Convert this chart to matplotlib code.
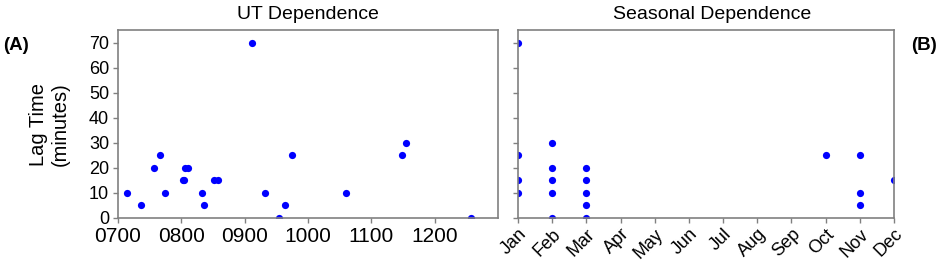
import matplotlib
matplotlib.use('Agg')
from matplotlib import pyplot as plt
from matplotlib.ticker import FuncFormatter

plt.rcParams['font.family'] = ['Liberation Sans', 'DejaVu Sans']

# UT dependence (UT as HHMM-style number, lag in minutes)
ut_time = [715, 736, 757, 766, 775, 802, 805, 806, 810, 833, 836, 851, 858,
           911, 932, 955, 964, 974, 1060, 1148, 1155, 1257]
ut_lag = [10, 5, 20, 25, 10, 15, 15, 20, 20, 10, 5, 15, 15,
          70, 10, 0, 5, 25, 10, 25, 30, 0]

# seasonal dependence (month number, lag in minutes)
month = [1, 1, 1, 1, 2, 2, 2, 2, 2, 3, 3, 3, 3, 3, 10, 11, 11, 11, 12]
season_lag = [70, 25, 15, 10, 30, 20, 15, 10, 0, 20, 15, 10, 5, 0, 25, 25, 10, 5, 15]

month_names = ['Jan', 'Feb', 'Mar', 'Apr', 'May', 'Jun',
               'Jul', 'Aug', 'Sep', 'Oct', 'Nov', 'Dec']
ut_ticks = [700, 800, 900, 1000, 1100, 1200]
lag_ticks = [0, 10, 20, 30, 40, 50, 60, 70]

fig = plt.figure(figsize=(9.41, 2.6), dpi=100)
ax1 = fig.add_axes([118 / 941, 42 / 260, 380 / 941, 188 / 260])
ax2 = fig.add_axes([518 / 941, 42 / 260, 376 / 941, 188 / 260])

spine_col = '#808080'
for ax in (ax1, ax2):
    for s in ax.spines.values():
        s.set_color(spine_col)
        s.set_linewidth(1.2)
    ax.tick_params(direction='out', length=3.5, width=1, color=spine_col, pad=3)
    ax.tick_params(axis='y', labelsize=13)
    ax.tick_params(axis='x', labelsize=15)
    ax.set_ylim(0, 75)
    ax.set_yticks(lag_ticks)

ax1.plot(ut_time, ut_lag, 'o', color='#0000ff', markersize=5.2, markeredgewidth=0)
ax1.set_xlim(700, 1300)
ax1.set_xticks(ut_ticks)
ax1.xaxis.set_major_formatter(FuncFormatter(lambda v, p: '%04d' % v))
ax1.set_ylabel('Lag Time\n(minutes)', fontsize=14.5, linespacing=1.15, labelpad=14)
ax1.set_title('UT Dependence', fontsize=14, pad=8)

ax2.plot(month, season_lag, 'o', color='#0000ff', markersize=5.2, markeredgewidth=0)
ax2.set_xlim(1, 12)
ax2.set_xticks(range(1, 13))
ax2.set_xticklabels(month_names, rotation=45, ha='right', rotation_mode='anchor')
ax2.tick_params(axis='x', labelsize=13, pad=2)
ax2.tick_params(axis='y', labelleft=False)
ax2.set_title('Seasonal Dependence', fontsize=14, pad=8, x=0.515)

fig.text(3 / 941, 1 - 45 / 260, '(A)', fontsize=13.5, fontweight='bold', va='center', ha='left')
fig.text(911 / 941, 1 - 45 / 260, '(B)', fontsize=13.5, fontweight='bold', va='center', ha='left')

fig.savefig('out.png', dpi=100)
